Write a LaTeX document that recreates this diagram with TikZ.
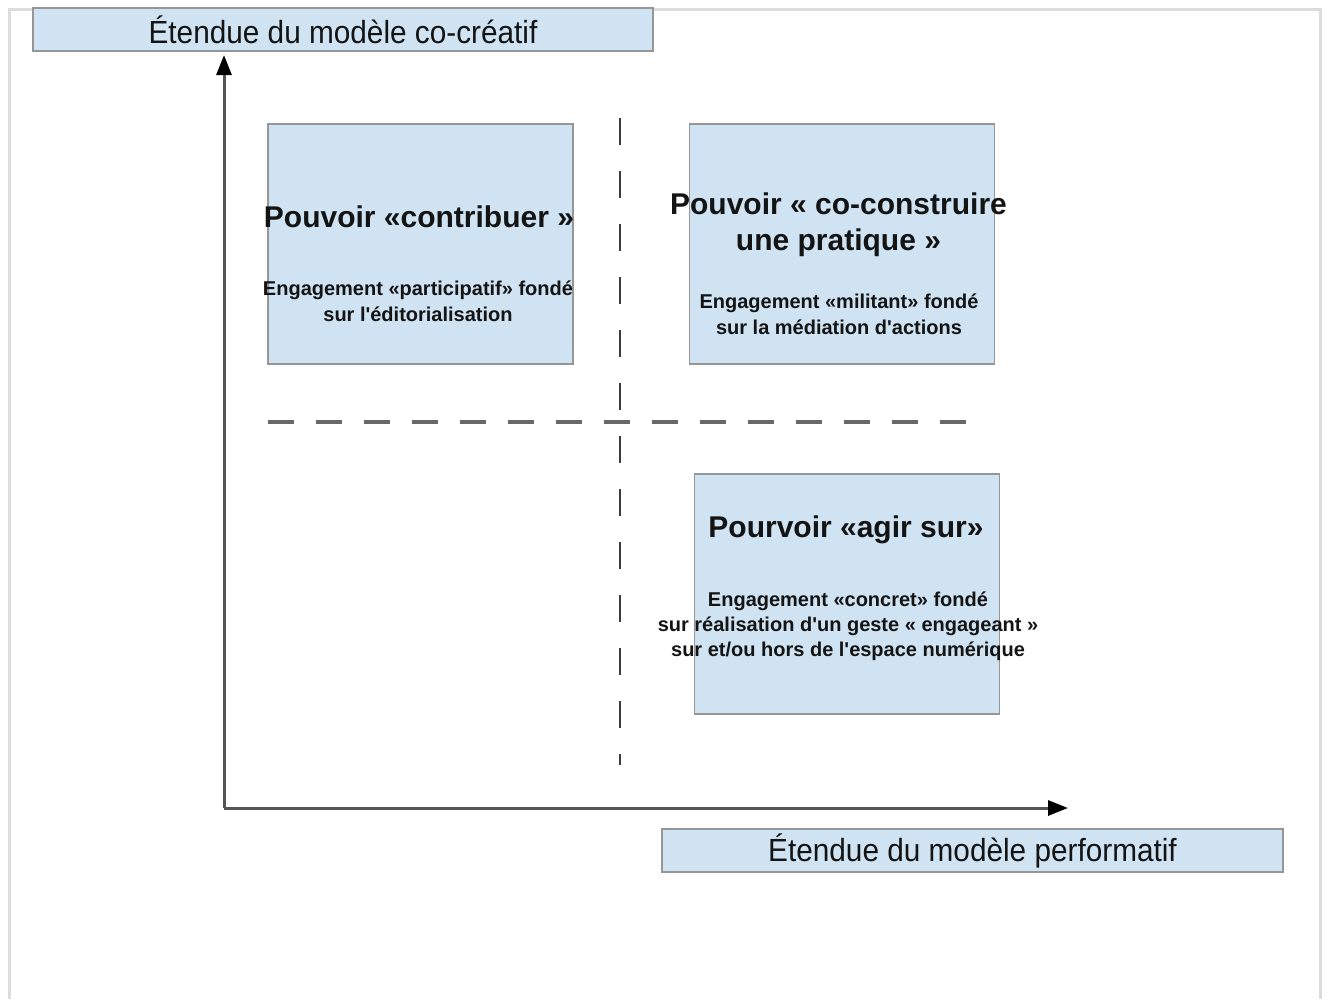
\documentclass[tikz,border=0pt]{standalone}
\usepackage{fontspec}
\setmainfont{Liberation Sans}[Ligatures=TeXOff]
\newfontfamily\narrowfont[FakeStretch=0.93,Ligatures=TeXOff]{Liberation Sans}
\usetikzlibrary{arrows.meta}
\definecolor{boxblue}{RGB}{207,227,242}
\definecolor{boxline}{RGB}{150,150,150}
\definecolor{framegray}{RGB}{220,220,220}
\definecolor{dashgray}{RGB}{105,105,105}
\definecolor{vdashgray}{RGB}{60,60,60}
\definecolor{axisgray}{RGB}{85,85,85}
\definecolor{txt}{RGB}{20,20,20}
\tikzset{
  qbox/.style={draw=boxline, line width=1.6pt, fill=boxblue, minimum width=305pt, minimum height=240pt, inner sep=0pt},
  labelbox/.style={draw=boxline, line width=1.6pt, fill=boxblue, minimum width=620pt, minimum height=43pt, inner sep=0pt, text=txt, font=\narrowfont\fontsize{32}{36}\selectfont},
  titletext/.style={align=center, text=txt, inner sep=0pt, font=\bfseries\fontsize{30}{36}\selectfont},
  subtext/.style={align=center, text=txt, inner sep=0pt, font=\bfseries\fontsize{20}{26}\selectfont},
  axisarrow/.style={-{Triangle[length=20pt,width=15pt,color=black]}, draw=axisgray, line width=3pt},
  hdash/.style={draw=dashgray, line width=3.5pt, dash pattern=on 26pt off 22pt},
  vdash/.style={draw=vdashgray, line width=2pt, dash pattern=on 27pt off 26pt},
}
\begin{document}
\begin{tikzpicture}[x=1pt,y=-1pt]
\useasboundingbox (0,0) rectangle (1328,999);
% outer frame
\draw[framegray, line width=3pt] (9,999) -- (9,9) -- (1320,9) -- (1320,999);
% dashed separators
\coordinate (hs) at (268,422);
\coordinate (he) at (970,422);
\coordinate (vs) at (620,118);
\coordinate (ve) at (620,765);
\draw[hdash] (hs) -- (he);
\draw[vdash] (vs) -- (ve);
% axes
\coordinate (o) at (224,808);
\coordinate (ytip) at (224,55);
\coordinate (xtip) at (1068,808);
\draw[axisarrow] (o) -- (ytip);
\draw[axisarrow] (o) -- (xtip);
% axis labels
\node[labelbox] (ylab) at (343,29.5) {Étendue du modèle co-créatif};
\node[labelbox, minimum width=621pt] (xlab) at (972.5,850.5) {Étendue du modèle performatif};
% quadrant boxes
\node[qbox] (b1) at (420.5,244) {};
\node[qbox] (b2) at (842,244) {};
\node[qbox] (b3) at (847,594) {};
% texts
\node[titletext] (t1) at (419,217) {Pouvoir «contribuer »};
\node[subtext] (s1) at (418,301) {Engagement «participatif» fondé\\sur l'éditorialisation};
\node[titletext] (t2) at (838.5,225) {Pouvoir « co-construire\\une pratique »};
\node[subtext] (s2) at (839,314) {Engagement «militant» fondé\\sur la médiation d'actions};
\node[titletext] (t3) at (846,530) {Pourvoir «agir sur»};
\node[subtext, font=\bfseries\fontsize{20}{25}\selectfont] (s3) at (848,626) {Engagement «concret» fondé\\sur réalisation d'un geste « engageant »\\sur et/ou hors de l'espace numérique};
\end{tikzpicture}
\end{document}
